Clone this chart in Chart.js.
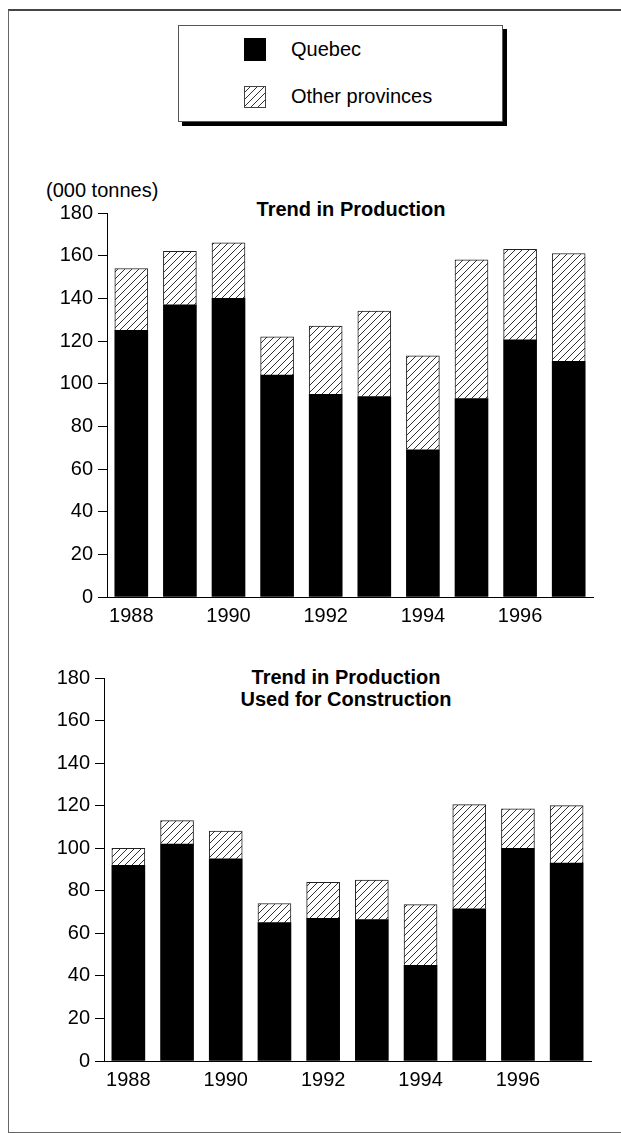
<!DOCTYPE html>
<html>
<head>
<meta charset="utf-8">
<script src="https://cdn.jsdelivr.net/npm/chart.js@4.4.1/dist/chart.umd.min.js"></script>
<style>
  html, body { margin: 0; padding: 0; background: #fff; }
  body { width: 621px; height: 1133px; position: relative; overflow: hidden;
         font-family: 'Liberation Sans', Arial, sans-serif; color: #000; }
  .abs { position: absolute; }
  .frame { left: 8px; top: 9px; width: 700px; height: 1121px;
           border-top: 2px solid #444; border-left: 1px solid #666; border-bottom: 1px solid #666; }
  .legend { left: 178px; top: 25px; width: 323px; height: 95px; border: 1px solid #555;
            background: #fff; box-shadow: 4px 4px 0 #000; }
  .txt { font-size: 20px; line-height: 20px; white-space: nowrap; }
  .title { font-size: 20px; line-height: 22px; font-weight: bold; text-align: center; white-space: nowrap; }
  canvas { position: absolute; left: 0; }
</style>
</head>
<body>
<div class="abs frame"></div>
<div class="abs legend"></div>
<div class="abs" style="left:244px;top:38px;width:22px;height:23px;background:#000;"></div>
<canvas id="sw" width="22" height="22" style="left:244px;top:86px;"></canvas>
<div class="abs txt" style="left:291px;top:39px;">Quebec</div>
<div class="abs txt" style="left:291px;top:86px;">Other provinces</div>

<div class="abs txt" style="left:46px;top:180px;">(000 tonnes)</div>
<div class="abs title" style="left:201px;width:300px;top:198px;">Trend in Production</div>
<div class="abs title" style="left:196px;width:300px;top:666px;">Trend in Production<br>Used for Construction</div>

<canvas id="c1" width="621" height="480" style="top:170px;"></canvas>
<canvas id="c2" width="621" height="480" style="top:640px;"></canvas>

<script>
// ---- data ----
const years = ['1988','1989','1990','1991','1992','1993','1994','1995','1996','1997'];
const xTickLabels = ['1988','','1990','','1992','','1994','','1996',''];
const yTickValues = [0,20,40,60,80,100,120,140,160,180];
const productionQuebec = [125, 137, 140, 104, 95, 94, 69, 93, 120.5, 110.5];
const productionOther  = [29, 25, 26, 18, 32, 40, 44, 65, 42.5, 50.5];
const constructionQuebec = [92, 102, 95, 65, 67, 66.5, 45, 71.5, 100, 93];
const constructionOther  = [8, 11, 13, 9, 17, 18.5, 28.5, 49, 18.5, 27];
const seriesNames = ['Quebec', 'Other provinces'];

Chart.defaults.font.family = "'Liberation Sans', Arial, sans-serif";
Chart.defaults.font.size = 20;
Chart.defaults.color = '#000';

function hatchTile() {
  const c = document.createElement('canvas');
  c.width = 7; c.height = 7;
  const x = c.getContext('2d');
  x.fillStyle = '#fff'; x.fillRect(0, 0, 7, 7);
  x.strokeStyle = '#1a1a1a'; x.lineWidth = 0.9;
  x.beginPath();
  x.moveTo(0, 7); x.lineTo(7, 0);
  x.moveTo(-1, 1); x.lineTo(1, -1);
  x.moveTo(6, 8); x.lineTo(8, 6);
  x.stroke();
  return c;
}
const tile = hatchTile();

// legend swatch
(function(){
  const ctx = document.getElementById('sw').getContext('2d');
  ctx.fillStyle = ctx.createPattern(tile, 'repeat');
  ctx.fillRect(0, 0, 22, 22);
  ctx.strokeStyle = '#444'; ctx.lineWidth = 1;
  ctx.strokeRect(0.5, 0.5, 21, 21);
})();

function makeChart(id, quebec, other, yWidth, pad) {
  const ctx = document.getElementById(id).getContext('2d');
  const pattern = ctx.createPattern(tile, 'repeat');
  return new Chart(ctx, {
    type: 'bar',
    data: {
      labels: years,
      datasets: [
        { label: seriesNames[0], data: quebec, backgroundColor: '#000', borderWidth: 0,
          barThickness: 33 },
        { label: seriesNames[1], data: other, backgroundColor: pattern, borderColor: '#222',
          borderWidth: 1, barThickness: 33 }
      ]
    },
    options: {
      responsive: false,
      animation: false,
      layout: { padding: pad },
      plugins: { legend: { display: false }, tooltip: { enabled: false }, title: { display: false } },
      scales: {
        x: {
          stacked: true,
          grid: { display: true, drawOnChartArea: false, drawTicks: false },
          border: { display: true, color: '#000', width: 1 },
          ticks: { autoSkip: false, maxRotation: 0, padding: 7,
                   callback: (v, i) => xTickLabels[i] },
          afterFit: s => { s.height = 40; }
        },
        y: {
          stacked: true,
          min: 0, max: 180,
          afterBuildTicks: s => { s.ticks = yTickValues.map(v => ({ value: v })); },
          grid: { display: true, drawOnChartArea: false, drawTicks: true, tickLength: 9, color: '#000' },
          border: { display: true, color: '#000', width: 1 },
          ticks: { padding: 5 },
          afterFit: s => { s.width = yWidth; }
        }
      }
    }
  });
}

makeChart('c1', productionQuebec, productionOther, 107, { left: 0, right: 28, top: 43, bottom: 13 });
makeChart('c2', constructionQuebec, constructionOther, 104, { left: 0, right: 30, top: 38, bottom: 19 });
</script>
</body>
</html>
